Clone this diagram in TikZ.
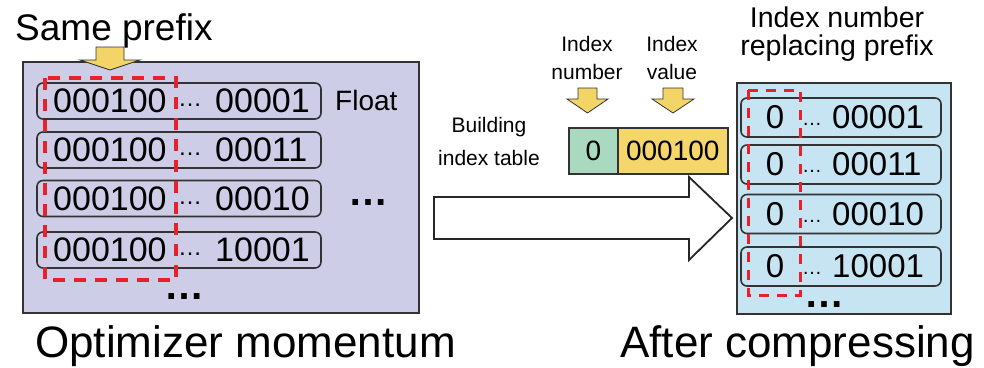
\documentclass[tikz,border=0pt]{standalone}
\usepackage{fontspec}
\setmainfont{Liberation Sans}
\newcommand\fsz[1]{\fontsize{#1}{#1}\selectfont}
\definecolor{lavfill}{HTML}{CDCDE8}
\definecolor{bluefill}{HTML}{C6E4F2}
\definecolor{cellgreen}{HTML}{A9D9BF}
\definecolor{cellyellow}{HTML}{F4D66B}
\definecolor{arrowyellow}{HTML}{F3D466}
\definecolor{markred}{HTML}{E8202A}
\definecolor{inkgray}{HTML}{333333}
\begin{document}
\begin{tikzpicture}[x=1pt,y=-1pt,
  txt/.style={inner sep=0pt, text=black},
  panel/.style={draw=inkgray, line width=2pt, inner sep=0pt, anchor=north west},
  rowbox/.style={draw=inkgray, line width=1.6pt, rounded corners=6pt, inner sep=0pt},
  prefixmark/.style={draw=markred, line width=3.5pt, dash pattern=on 12pt off 9pt},
  yarrow/.style={draw=inkgray, line width=0.8pt, fill=arrowyellow},
  cell/.style={draw=inkgray, line width=1.6pt, inner sep=0pt, anchor=north west, font=\fsz{28}},
  bigdots/.style={txt, font=\bfseries\fsz{40}}]
\useasboundingbox (0,0) rectangle (984,367);

% ---------- left panel: optimizer momentum ----------
\node[panel, fill=lavfill, minimum width=396, minimum height=251] (mom) at (22,61) {};
\foreach \i/\y in {1/101,2/150,3/198.5,4/250}{
  \node[rowbox, minimum width=284, minimum height=36] (L\i) at (179,\y) {};
}
\foreach \i/\y/\s in {1/101/00001,2/150/00011,3/198.5/00010,4/250/10001}{
  \node[txt, anchor=west, font=\fsz{34}] (Lp\i) at (53,\y) {000100};
  \node[txt, anchor=base west, font=\fsz{24}] (Ld\i) at (178,\y+5.5) {…};
  \node[txt, anchor=west, font=\fsz{34}] (Ls\i) at (215,\y) {\s};
}
\draw[prefixmark] (45,78) rectangle (176,280);
\node[txt, anchor=west, font=\fsz{28}] (float) at (335,100) {Float};
\node[bigdots] (ldotsr) at (368,203) {…};
\node[bigdots] (ldotsb) at (184,297) {…};

\node[txt, anchor=base west, font=\fsz{37}] (same) at (15,40) {Same prefix};
\draw[yarrow] (96,47) -- (124,47) -- (124,60) -- (140,60) -- (110,70)
  -- (80,60) -- (96,60) -- cycle;

\node[txt, anchor=base west, font=\fsz{44}] (momlabel) at (35,357) {Optimizer momentum};

% ---------- middle: index table ----------
\node[txt, align=center, font=\fontsize{21}{33}\selectfont] (build) at (489,141) {Building\\index table};
\node[txt, align=center, font=\fontsize{21}{28}\selectfont] (inum) at (587,58) {Index\\number};
\node[txt, align=center, font=\fontsize{21}{28}\selectfont] (ival) at (672,58) {Index\\value};
\draw[yarrow] (578,88) -- (597,88) -- (597,99) -- (608,99) -- (587.5,113)
  -- (567,99) -- (578,99) -- cycle;
\draw[yarrow] (663,88) -- (683,88) -- (683,99) -- (694,99) -- (673,113)
  -- (652,99) -- (663,99) -- cycle;
\node[cell, fill=cellgreen, minimum width=49, minimum height=46] (c0) at (568,127) {0};
\node[cell, fill=cellyellow, minimum width=110, minimum height=46] (c1) at (617,127) {000100};

% big hollow arrow
\draw[line width=1.8pt, draw=black!85, fill=white] (434,197) -- (689,197) -- (689,177)
  -- (732,218) -- (689,260) -- (689,239) -- (434,239) -- cycle;

% ---------- right panel: after compressing ----------
\node[txt, align=center, font=\fontsize{28.5}{28}\selectfont] (repl) at (837,34) {Index number\\replacing prefix};
\node[panel, fill=bluefill, minimum width=214, minimum height=231] (cmp) at (736,82) {};
\foreach \i/\y in {1/117.5,2/164.5,3/214,4/266.5}{
  \node[rowbox, minimum width=200, minimum height=39] (R\i) at (841,\y) {};
}
\foreach \i/\y/\s in {1/117.5/00001,2/164.5/00011,3/214/00010,4/266.5/10001}{
  \node[txt, font=\fsz{33}] (Rp\i) at (775,\y) {0};
  \node[txt, anchor=base west, font=\fsz{20}] (Rd\i) at (802,\y+8) {…};
  \node[txt, anchor=west, font=\fsz{33}] (Rs\i) at (832,\y) {\s};
}
\draw[prefixmark, line width=3pt, dash pattern=on 10pt off 8pt] (748,90) rectangle (800,295);
\node[bigdots] (rdotsb) at (824,305) {…};

\node[txt, anchor=base west, font=\fsz{44}] (cmplabel) at (620,357) {After compressing};
\end{tikzpicture}
\end{document}
